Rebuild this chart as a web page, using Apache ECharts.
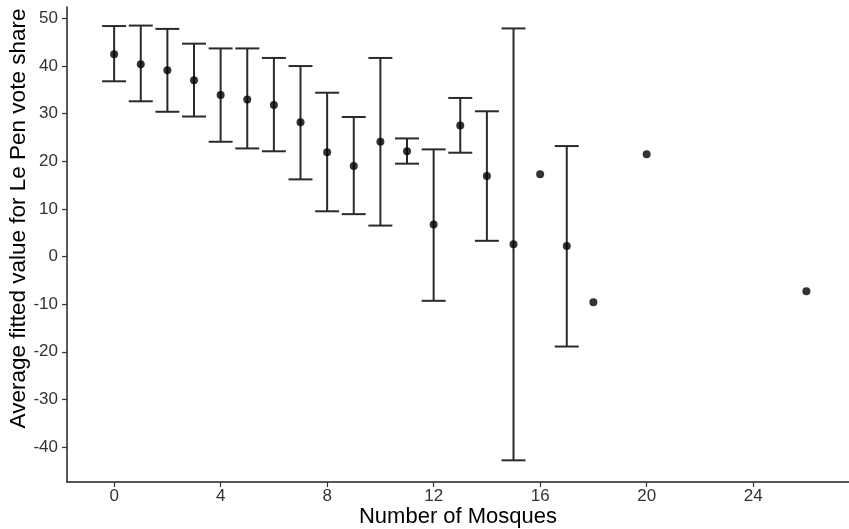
<!DOCTYPE html>
<html>
<head>
<meta charset="utf-8">
<script src="https://cdn.jsdelivr.net/npm/echarts@6/dist/echarts.min.js"></script>
<style>
  html, body { margin: 0; padding: 0; background: #fff; }
  #main { width: 849px; height: 529px; }
</style>
</head>
<body>
<div id="main"></div>
<script>
// values
var mosques = [0, 1, 2, 3, 4, 5, 6, 7, 8, 9, 10, 11, 12, 13, 14, 15, 16, 17, 18, 20, 26];
var fitted  = [42.5, 40.4, 39.1, 37.0, 33.9, 33.0, 31.8, 28.2, 21.9, 19.0, 24.1, 22.1, 6.7, 27.5, 16.9, 2.6, 17.3, 2.2, -9.6, 21.5, -7.3];
var lower   = [36.8, 32.6, 30.4, 29.4, 24.1, 22.7, 22.1, 16.2, 9.5, 8.9, 6.5, 19.5, -9.3, 21.8, 3.3, -42.8, null, -18.9, null, null, null];
var upper   = [48.4, 48.5, 47.8, 44.7, 43.7, 43.7, 41.7, 40.0, 34.4, 29.3, 41.7, 24.8, 22.5, 33.3, 30.5, 47.9, null, 23.2, null, null, null];
var xTicks = [0, 4, 8, 12, 16, 20, 24];
var yTicks = [-40, -30, -20, -10, 0, 10, 20, 30, 40, 50];

var capWidth = 0.9;
var font = 'Liberation Sans';

var chart = echarts.init(document.getElementById('main'));

var barData = [];
var pointData = [];
for (var i = 0; i < mosques.length; i++) {
  pointData.push([mosques[i], fitted[i]]);
  if (lower[i] != null) {
    barData.push([mosques[i], lower[i], upper[i]]);
  }
}

function renderBar(params, api) {
  var x = api.value(0);
  var lo = api.coord([x, api.value(1)]);
  var hi = api.coord([x, api.value(2)]);
  var half = api.size([capWidth, 0])[0] / 2;
  var style = { stroke: '#2a2a2a', lineWidth: 2 };
  return {
    type: 'group',
    children: [
      { type: 'line', shape: { x1: lo[0], y1: lo[1], x2: hi[0], y2: hi[1] }, style: style },
      { type: 'line', shape: { x1: hi[0] - half, y1: hi[1], x2: hi[0] + half, y2: hi[1] }, style: style },
      { type: 'line', shape: { x1: lo[0] - half, y1: lo[1], x2: lo[0] + half, y2: lo[1] }, style: style }
    ]
  };
}

var option = {
  backgroundColor: '#fff',
  animation: false,
  grid: { left: 67, right: 0, top: 7, bottom: 47, outerBoundsMode: 'none' },
  xAxis: {
    type: 'value',
    min: -1.77,
    max: 27.6,
    name: 'Number of Mosques',
    nameLocation: 'middle',
    nameGap: 24,
    nameMoveOverlap: false,
    nameTextStyle: { fontFamily: font, fontSize: 22, color: '#000' },
    splitLine: { show: false },
    axisLine: { onZero: false, lineStyle: { color: '#222', width: 1.5 } },
    axisTick: { customValues: xTicks, length: 5, lineStyle: { color: '#333', width: 1.2 } },
    axisLabel: { customValues: xTicks, margin: 6, fontFamily: font, fontSize: 17, color: '#333' }
  },
  yAxis: {
    type: 'value',
    min: -47.35,
    max: 52.4,
    name: 'Average fitted value for Le Pen vote share',
    nameLocation: 'middle',
    nameGap: 37,
    nameMoveOverlap: false,
    nameTextStyle: { fontFamily: font, fontSize: 22.5, color: '#000', padding: [0, 0, 0, 52] },
    splitLine: { show: false },
    axisLine: { show: true, onZero: false, lineStyle: { color: '#222', width: 1.5 } },
    axisTick: { show: true, customValues: yTicks, length: 5, lineStyle: { color: '#333', width: 1.2 } },
    axisLabel: { customValues: yTicks, margin: 9, fontFamily: font, fontSize: 17, color: '#333' }
  },
  series: [
    {
      type: 'custom',
      renderItem: renderBar,
      data: barData,
      encode: { x: 0, y: [1, 2] },
      z: 2
    },
    {
      type: 'scatter',
      data: pointData,
      symbolSize: 8,
      itemStyle: { color: '#000' },
      z: 3
    }
  ]
};
chart.setOption(option);
</script>
</body>
</html>
